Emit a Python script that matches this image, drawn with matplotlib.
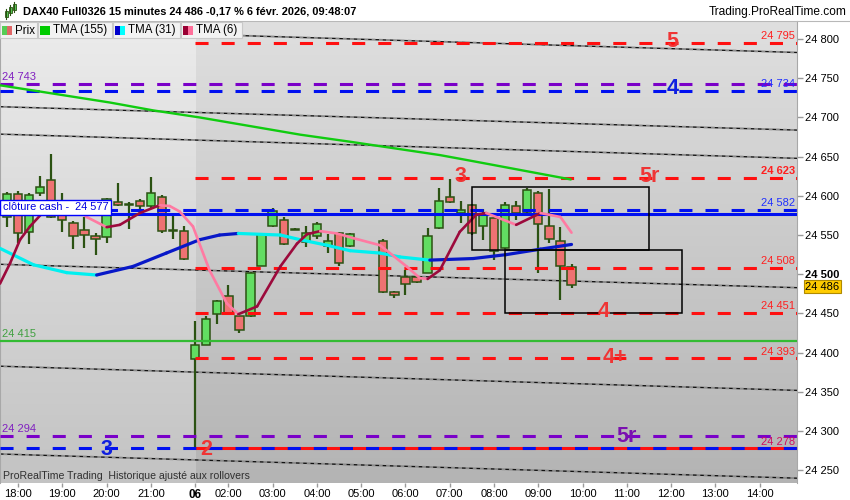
import numpy as np
import matplotlib
matplotlib.use('Agg')
import matplotlib.pyplot as plt
from matplotlib.patches import Rectangle
from matplotlib.collections import LineCollection

plt.rcParams['font.family'] = ['Liberation Sans', 'DejaVu Sans']
plt.rcParams['lines.scale_dashes'] = False

# ---------------- data ----------------
bar_idx = [-1, 0, 1, 2, 3, 4, 5, 6, 7, 8, 9, 10, 11, 12, 13, 14, 15,
           16, 17, 18, 19, 20, 21, 22, 23, 24, 25, 26, 27, 28, 29, 30,
           33, 34, 35, 36, 37, 38, 39, 40, 41, 42, 43, 44, 45, 46, 47, 48, 49, 50]
opens = [24573, 24602, 24554, 24603, 24620, 24577, 24565, 24556, 24549, 24548, 24592, 24588, 24593, 24587, 24599, 24555, 24555,
         24392, 24410, 24449, 24472, 24447, 24447, 24511, 24561, 24569, 24558, 24541, 24549, 24536, 24553, 24536,
         24543, 24477, 24497, 24497, 24502, 24559, 24598, 24578, 24588, 24562, 24572, 24533, 24587, 24579, 24604, 24562, 24543, 24509]
highs = [24605, 24606, 24604, 24625, 24653, 24604, 24568, 24573, 24553, 24597, 24617, 24592, 24596, 24624, 24601, 24578, 24562,
         24440, 24447, 24467, 24486, 24447, 24503, 24552, 24585, 24573, 24559, 24561, 24566, 24551, 24554, 24552,
         24545, 24478, 24506, 24498, 24559, 24610, 24621, 24593, 24589, 24583, 24573, 24592, 24593, 24610, 24606, 24609, 24560, 24513]
lows = [24560, 24540, 24538, 24600, 24572, 24554, 24532, 24533, 24525, 24540, 24587, 24558, 24578, 24585, 24553, 24545, 24518,
        24277, 24410, 24436, 24448, 24425, 24445, 24510, 24560, 24537, 24557, 24535, 24545, 24527, 24511, 24535,
        24476, 24470, 24474, 24489, 24501, 24558, 24591, 24565, 24550, 24544, 24518, 24532, 24569, 24578, 24501, 24540, 24467, 24483]
closes = [24602, 24553, 24601, 24611, 24573, 24569, 24549, 24550, 24545, 24596, 24588, 24588, 24587, 24603, 24555, 24555, 24519,
          24410, 24443, 24466, 24449, 24429, 24502, 24551, 24581, 24538, 24557, 24552, 24564, 24542, 24514, 24551,
          24477, 24474, 24488, 24490, 24549, 24593, 24592, 24582, 24553, 24577, 24530, 24588, 24578, 24607, 24564, 24545, 24510, 24486]

tma155_bar = [-1.63, 1.99, 8.31, 12.2, 16.4, 25.5, 30.0, 38.1, 40.8, 49.9]
tma155_val = [24741, 24733, 24719, 24709, 24700, 24678, 24669, 24652, 24645, 24621]

tma31_bar = [-1.63, 1.4, 4.4, 7.1, 10.4, 13.4, 16.4, 18.2, 19.9, 23.7, 25.5, 27.9, 30.0,
             32.7, 34.5, 37.2, 41.1, 44.1, 47.2, 50.0]
tma31_val = [24533, 24512, 24502, 24499, 24510, 24527, 24544, 24550, 24552, 24550, 24544, 24537, 24530,
             24527, 24522, 24518, 24520, 24525, 24532, 24538]

tma6_bar = [-1.63, -0.72, 0.18, 1.08, 2.26, 3.79, 5.15, 6.2, 8.0, 9.2, 11.0, 12.8, 13.7, 14.6, 15.8,
            17.3, 18.85, 19.9, 21.6, 23.7, 25.2, 26.1, 27.3, 28.8, 30.3, 32.7, 35.1, 36.3, 37.0,
            38.1, 39.9, 41.4, 42.3, 45.0, 47.2, 49.0, 50.0]
tma6_val = [24488, 24514, 24544, 24561, 24579, 24588, 24584, 24573, 24560, 24563, 24578, 24588, 24587, 24580, 24561,
            24505, 24463, 24449, 24459, 24510, 24539, 24551, 24555, 24552, 24546, 24537, 24510, 24495, 24494,
            24505, 24554, 24576, 24578, 24563, 24578, 24573, 24553]

session_start = 16
red_levels = [24795, 24623, 24508, 24451, 24393]
red_level_labels = ['24 795', '24 623', '24 508', '24 451', '24 393']
blue_levels = [24734, 24582, 24278]
blue_level_labels = ['24 734', '24 582', '24 278']
purple_levels = [24743, 24294]
purple_level_labels = ['24 743', '24 294']
cash_close = 24577
green_level = 24415

channel_at_0 = [24813, 24713, 24678, 24512, 24382, 24270]
channel_at_70 = [24783, 24684, 24648, 24483, 24352, 24240]

boxes = [(41, 57, 24531, 24611), (44, 60, 24450, 24531)]

marker_text = ['5', '4', '3', '5r', '4', '4+', '5r', '3', '2']
marker_bar = [59.1, 59.1, 40.0, 57.0, 52.9, 53.9, 55.0, 7.95, 17.0]
marker_val = [24797, 24737.5, 24625, 24624.5, 24452, 24394, 24293, 24277, 24277]
marker_col = ['red', 'blue', 'red', 'red', 'red', 'red', 'purple', 'blue', 'red']

time_tick_pos = [0, 4, 8, 12, 16, 19, 23, 27, 31, 35, 39, 43, 47, 51, 55, 59, 63, 67]
time_tick_lbl = ['18:00', '19:00', '20:00', '21:00', '06', '02:00', '03:00', '04:00', '05:00',
                 '06:00', '07:00', '08:00', '09:00', '10:00', '11:00', '12:00', '13:00', '14:00']
price_ticks = [24250, 24300, 24350, 24400, 24450, 24500, 24550, 24600, 24650, 24700, 24750, 24800]
last_price = 24486

# ---------------- style ----------------
RED = '#ff1010'
BLUE = '#0010f0'
PURPLE = '#7a00c8'
cmap_col = {'red': '#ef3535', 'blue': '#1020e0', 'purple': '#7a10b0'}

W, H = 850, 500
fig = plt.figure(figsize=(8.5, 5), dpi=100)
fig.patch.set_facecolor('white')

def fx(px):
    return px / W

def fy(py):
    return 1 - py / H

ax = fig.add_axes([0, 17 / H, 797 / W, 462 / H])
XL, XR = -1.63, 70.37
YB, YT = 24233.7, 24823
ax.set_xlim(XL, XR)
ax.set_ylim(YB, YT)

# background gradients
g = np.linspace(0, 1, 256).reshape(-1, 1)
right_grad = (0.875 - 0.17 * g)
left_grad = (0.925 - 0.16 * g)
ax.imshow(np.dstack([right_grad] * 3), extent=[XL, XR, YB, YT], aspect='auto', zorder=0, origin='upper')
ax.imshow(np.dstack([left_grad] * 3), extent=[XL, session_start - 0.01, YB, YT], aspect='auto', zorder=0.1, origin='upper')

# channel lines (dotted black/grey)
for a, b in zip(channel_at_0, channel_at_70):
    ax.axline((0, a), (70, b), color='#8a8a8a', lw=1.4, linestyle=(2.6, (2.6, 2.6)), zorder=1)
    ax.axline((0, a), (70, b), color='#111111', lw=1.0, linestyle=(0, (2.6, 2.6)), zorder=1.1)

# candles
bw = 0.75
edge = '#2b5212'
for i, o, h, l, c in zip(bar_idx, opens, highs, lows, closes):
    ax.plot([i, i], [l, h], color=edge, lw=1.6, zorder=2, solid_capstyle='butt')
    fc = '#62dd62' if c > o else ('#ee7272' if c < o else edge)
    bot = min(o, c)
    ht = max(abs(c - o), 1.2)
    ax.add_patch(Rectangle((i - bw / 2, bot), bw, ht, facecolor=fc, edgecolor=edge, lw=1.1, zorder=2.1))

dash = (0, (9.4, 9.4))
# green level
ax.axhline(green_level, color='#33bb33', lw=1.6, zorder=3)
# purple levels
for v in purple_levels:
    ax.axhline(v, color=PURPLE, lw=2.2, linestyle=dash, zorder=3)
# red segment under 24278 blue dash
ax.plot([session_start, XR], [blue_levels[2]] * 2, color=RED, lw=2.2, zorder=3, solid_capstyle='butt')
for v in blue_levels:
    ax.axhline(v, color=BLUE, lw=2.2, linestyle=dash, zorder=3.1)
# cash close
ax.axhline(cash_close, color=BLUE, lw=2.2, zorder=3.2)
# red levels from session start
for v in red_levels:
    ax.plot([session_start, XR], [v, v], color=RED, lw=2.2, linestyle=dash, zorder=3.1)

# TMA lines
def colored_line(xs, ys, up, down, lw, z):
    pts = np.column_stack([xs, ys])
    segs = np.stack([pts[:-1], pts[1:]], axis=1)
    cols = [up if ys[k + 1] >= ys[k] else down for k in range(len(ys) - 1)]
    lc = LineCollection(segs, colors=cols, linewidths=lw, zorder=z, capstyle='round', joinstyle='round')
    ax.add_collection(lc)

ax.plot(tma155_bar, tma155_val, color='#10cc10', lw=1.7, zorder=4, solid_joinstyle='round')
colored_line(tma31_bar, tma31_val, '#0818c8', '#00f0f0', 2.3, 4.1)
colored_line(tma6_bar, tma6_val, '#9c0a3c', '#ff7aa2', 1.9, 4.2)

# boxes
for x0, x1, y0, y1 in boxes:
    ax.add_patch(Rectangle((x0, y0), x1 - x0, y1 - y0, fill=False, edgecolor='black', lw=1.1, zorder=5))

# markers
for t, xb, yv, cname in zip(marker_text, marker_bar, marker_val, marker_col):
    ax.text(xb, yv, t, color=cmap_col[cname], fontsize=15.5, fontweight='bold', ha='center', va='center',
            zorder=6)

# right level labels
right_x = 70.2
for v, t in zip(red_levels, red_level_labels):
    ax.annotate(t, xy=(right_x, v), xytext=(0, 2.6), textcoords='offset points', ha='right', va='baseline',
                color='#ff2020', fontsize=8, fontweight='bold' if v == 24623 else 'normal', zorder=6)
for v, t in zip(blue_levels, blue_level_labels):
    col = '#d01060' if v == 24278 else '#2030ff'
    ax.annotate(t, xy=(right_x, v), xytext=(0, 2.6), textcoords='offset points', ha='right', va='baseline',
                color=col, fontsize=8, zorder=6)
# left level labels
for v, t in zip(purple_levels, purple_level_labels):
    ax.annotate(t, xy=(XL, v), xytext=(1.5, 2.6), textcoords='offset points', ha='left', va='baseline',
                color='#8020c0', fontsize=8, zorder=6)
ax.annotate('24 415', xy=(XL, green_level), xytext=(1.5, 2.6), textcoords='offset points', ha='left',
            va='baseline', color='#40a040', fontsize=8, zorder=6)

# cloture cash box
ax.annotate('clôture cash -  24 577', xy=(XL, cash_close), xytext=(2.2, 4.6), textcoords='offset points',
            ha='left', va='center', color='#0000e0', fontsize=7.9, zorder=7,
            bbox=dict(boxstyle='square,pad=0.25', fc='white', ec='#0000ff', lw=1.0))

# axes styling
for s in ['top', 'bottom']:
    ax.spines[s].set_visible(False)
ax.spines['left'].set_color('#a8a8a8')
ax.spines['right'].set_color('#a8a8a8')
ax.yaxis.tick_right()
ax.set_yticks(price_ticks)
ax.set_yticklabels([f"{v // 1000} {v % 1000:03d}" for v in price_ticks])
ax.tick_params(axis='y', length=4, width=1, color='#999999', pad=2, labelsize=8, labelcolor='black')
for lbl, v in zip(ax.get_yticklabels(), price_ticks):
    if v == 24500:
        lbl.set_fontweight('bold')
ax.set_xticks(time_tick_pos)
ax.set_xticklabels(time_tick_lbl)
ax.tick_params(axis='x', length=3, width=1, color='#999999', pad=1.5, labelsize=8, labelcolor='black')
for lbl, t in zip(ax.get_xticklabels(), time_tick_lbl):
    if t == '06':
        lbl.set_fontweight('bold')
        lbl.set_fontsize(8.5)

# last price box
ax.annotate(f"{last_price // 1000} {last_price % 1000:03d}", xy=(1, last_price), xycoords=('axes fraction', 'data'),
            xytext=(5.8, -1), textcoords='offset points', ha='left', va='center', fontsize=8, color='black',
            annotation_clip=False, zorder=10,
            bbox=dict(boxstyle='square,pad=0.12', fc='#ffcc00', ec='#b08a00', lw=0.8))

# bottom footer text
fig.text(fx(3), fy(476), 'ProRealTime Trading  Historique ajusté aux rollovers', fontsize=7.6,
         color='#303030', va='center', ha='left', zorder=20)

# header
fig.add_artist(plt.Line2D([0, 1], [fy(20.5), fy(20.5)], transform=fig.transFigure, color='#b8b8b8', lw=0.8))
fig.text(fx(23), fy(12), 'DAX40 Full0326 15 minutes 24 486 -0,17 % 6 févr. 2026, 09:48:07', fontsize=7.9,
         fontweight='bold', va='center', ha='left', color='black')
fig.text(fx(847), fy(12), 'Trading.ProRealTime.com', fontsize=8.6, va='center', ha='right', color='black')
# icon
for xi, y0, y1 in [(6, 11, 17), (10, 7, 13), (14, 4, 10)]:
    fig.add_artist(plt.Line2D([fx(xi), fx(xi)], [fy(y1 + 2), fy(y0 - 2)], transform=fig.transFigure,
                              color='#2b5212', lw=0.8))
    fig.add_artist(Rectangle((fx(xi - 1.5), fy(y1)), 3 / W, (y1 - y0) / H, transform=fig.transFigure,
                             fc='#55cc55', ec='#2b5212', lw=0.6))

# legend tabs
tabs = [('Prix', 0, 37, ('#55cc55', '#e06666')),
        ('TMA (155)', 38, 112, ('#00cc00', '#00cc00')),
        ('TMA (31)', 113, 180, ('#0000cc', '#00ffff')),
        ('TMA (6)', 181, 242, ('#990033', '#ff6f9a'))]
for name, x0, x1, (c1, c2) in tabs:
    fig.add_artist(Rectangle((fx(x0), fy(38)), (x1 - x0) / W, 16 / H, transform=fig.transFigure,
                             fc='#f2f2f2', ec='#c8c8c8', lw=0.8, zorder=10))
    fig.add_artist(Rectangle((fx(x0 + 2), fy(35)), 5 / W, 9 / H, transform=fig.transFigure,
                             fc=c1, ec='none', zorder=11))
    fig.add_artist(Rectangle((fx(x0 + 7), fy(35)), 5 / W, 9 / H, transform=fig.transFigure,
                             fc=c2, ec='none', zorder=11))
    fig.text(fx(x0 + 15), fy(30.5), name, fontsize=8.3, va='center', ha='left', color='black', zorder=12)

fig.savefig('out.png', dpi=100)
